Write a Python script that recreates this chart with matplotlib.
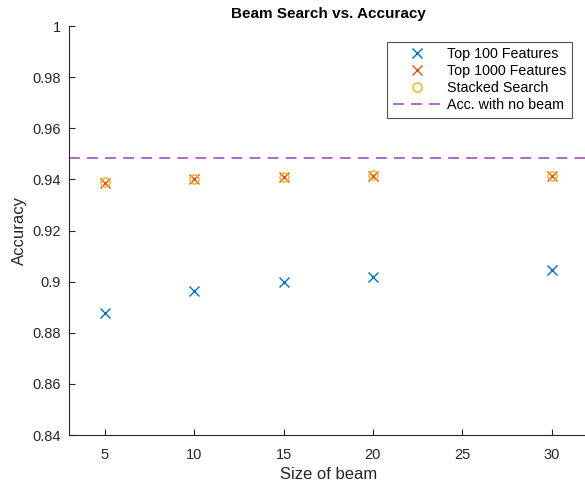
import numpy as np
import matplotlib
matplotlib.use("Agg")
import matplotlib.pyplot as plt

plt.rcParams['font.family'] = ['Liberation Sans', 'DejaVu Sans']

# Data
beam_sizes = [5, 10, 15, 20, 30]
acc_top100 = [0.8877, 0.8962, 0.8999, 0.9018, 0.9045]
acc_top1000 = [0.9386, 0.9401, 0.9410, 0.9414, 0.9414]
acc_stacked = [0.9388, 0.9402, 0.9411, 0.9416, 0.9415]
acc_no_beam = 0.9483

x_ticks = [5, 10, 15, 20, 25, 30]
y_ticks = [0.84, 0.86, 0.88, 0.9, 0.92, 0.94, 0.96, 0.98, 1]
y_tick_labels = ["0.84", "0.86", "0.88", "0.9", "0.92", "0.94", "0.96", "0.98", "1"]

fig = plt.figure(figsize=(5.85, 4.86), dpi=100)
W, H = 585, 486
ax = fig.add_axes([69 / W, (H - 435) / H, (587.4 - 69) / W, (435 - 26) / H])

ax.plot(beam_sizes, acc_top100, 'x', color='#0072BD', markersize=6.5, mew=1.0, label='Top 100 Features')
ax.plot(beam_sizes, acc_top1000, 'x', color='#D95319', markersize=6.5, mew=1.0, label='Top 1000 Features')
ax.plot(beam_sizes, acc_stacked, 'o', color='#EDB120', mfc='none', markersize=6.5, mew=1.0, label='Stacked Search')
ax.axhline(acc_no_beam, color='#a461b8', linestyle=(0, (6, 4)), linewidth=1.3, label='Acc. with no beam')

ax.set_xlim(3, 32)
ax.set_ylim(0.84, 1)
ax.set_xticks(x_ticks)
ax.set_yticks(y_ticks)
ax.set_yticklabels(y_tick_labels)

for side in ['top', 'right']:
    ax.spines[side].set_visible(False)
for side in ['left', 'bottom']:
    ax.spines[side].set_color('#262626')
    ax.spines[side].set_linewidth(0.8)
ax.tick_params(direction='in', length=4, width=0.8, colors='#262626', labelsize=10.5)
ax.tick_params(axis='x', pad=9)
ax.tick_params(axis='y', pad=6)

ax.set_xlabel('Size of beam', fontsize=12, color='#262626', labelpad=4)
ax.set_ylabel('Accuracy', fontsize=12, color='#262626', labelpad=4)
ax.set_title('Beam Search vs. Accuracy', fontsize=11, fontweight='bold', pad=6)

leg = ax.legend(loc='upper right', bbox_to_anchor=((572 - 69) / (587.4 - 69), (435 - 41.7) / (435 - 26)),
                fontsize=10.3, frameon=True, fancybox=False, handlelength=3.4, borderpad=0.4,
                labelspacing=0.2, handletextpad=0.4, borderaxespad=0)
leg.get_frame().set_edgecolor('#262626')
leg.get_frame().set_linewidth(0.8)

fig.savefig('out.png', dpi=100)
